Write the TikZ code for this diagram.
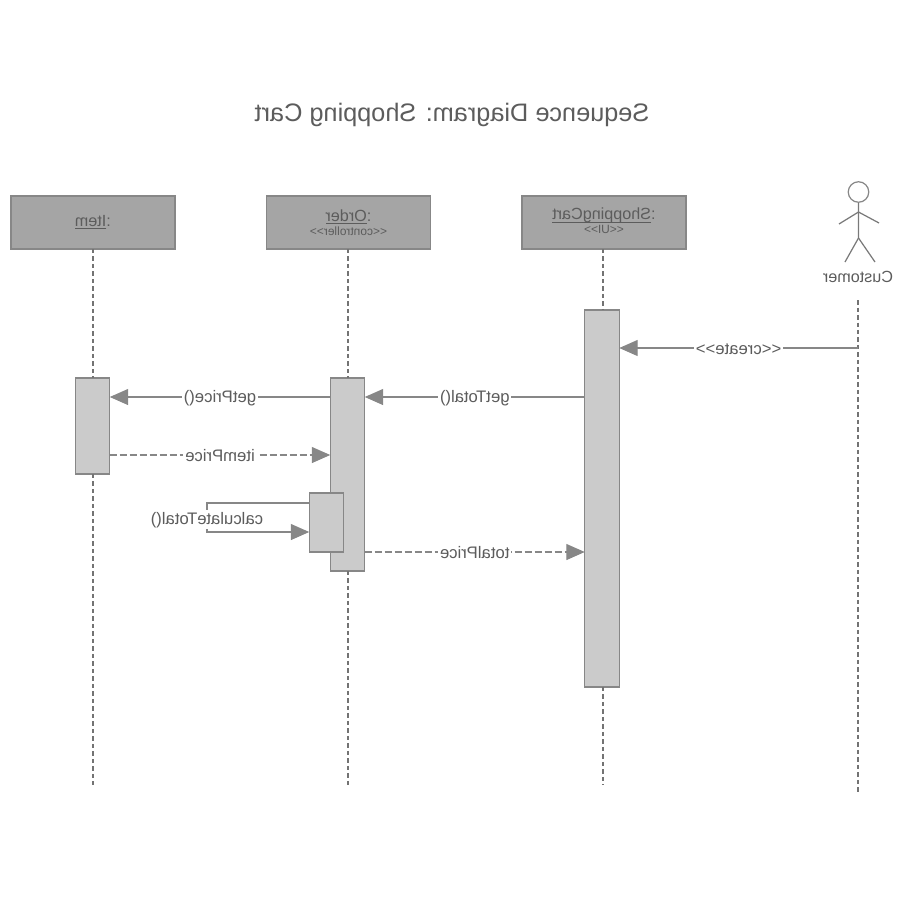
\documentclass[tikz,border=0pt]{standalone}
\usepackage{graphicx}
\usepackage{xcolor}
\usepackage{fontspec}
\setmainfont{Liberation Sans}
\usetikzlibrary{arrows.meta, positioning}

\definecolor{headfill}{HTML}{A5A5A5}
\definecolor{barfill}{HTML}{CBCBCB}
\definecolor{edgegray}{HTML}{878787}
\definecolor{textgray}{HTML}{5C5C5C}

% the whole reference prints mirrored
\newcommand{\mir}[1]{\reflectbox{#1}}

\tikzset{
    headbox/.style={draw=edgegray, line width=0.7pt, fill=headfill, inner sep=0pt, outer sep=0pt, minimum width=3.28cm, minimum height=1.06cm, align=center, text=textgray, font=\fontsize{9.2}{9.7}\selectfont},
    actbar/.style={draw=edgegray, line width=0.8pt, fill=barfill, inner sep=0pt, outer sep=0pt, minimum width=0.69cm},
    lifeline/.style={dashed, dash pattern=on 0.09cm off 0.06cm, edgegray!85!black, line width=0.9pt},
    callmsg/.style={edgegray, line width=0.8pt, -{Triangle[length=0.37cm, width=0.32cm]}},
    backmsg/.style={callmsg, dash pattern=on 0.14cm off 0.06cm},
    msglabel/.style={fill=white, inner xsep=1pt, inner ysep=1pt, yshift=-0.5pt, text=textgray, font=\fontsize{9.5}{10}\selectfont},
    figure/.style={edgegray!90!black, line width=0.7pt}
}

\begin{document}
\begin{tikzpicture}[x=0.02cm, y=-0.02cm]
\useasboundingbox (0,0) rectangle (900,900);

    % Title
    \node[text=textgray, font=\fontsize{14.4}{17}\selectfont] (title) at (452,115) {\mir{Sequence Diagram: Shopping Cart}};

    % Heads
    \node[headbox] (item) at (93,222.5) {\mir{:\underline{Item}}};
    \node[headbox] (order) at (348.5,222.5) {\mir{:\underline{Order}}\\[-1.5pt]{\fontsize{6.8}{7}\selectfont\mir{<{}<controller>{}>}}};
    \node[headbox] (cart) at (604,222.5) {\mir{:\underline{\smash{ShoppingCart}}}\\[-1.5pt]{\fontsize{6.8}{7}\selectfont\mir{<{}<UI>{}>}}};

    % Customer
    \node[circle, draw=edgegray, line width=0.7pt, inner sep=0pt, minimum size=0.41cm] (head) at (858.5,192) {};
    \coordinate (neck) at (858.5,212);
    \coordinate (hip) at (858.5,238);
    \coordinate (lefthand) at (839,224);
    \coordinate (righthand) at (879,223);
    \coordinate (leftfoot) at (845,262);
    \coordinate (rightfoot) at (875,262);
    \draw[figure] (head) -- (hip) -- (leftfoot);
    \draw[figure] (hip) -- (rightfoot);
    \draw[figure] (lefthand) -- (neck) -- (righthand);
    \node[text=textgray, font=\fontsize{9.2}{10}\selectfont] (customer) at (858,277) {\mir{Customer}};

    % Activation bars
    \node[actbar, minimum height=7.54cm] (cartbar) at (602,498.5) {};
    \node[actbar, minimum height=3.86cm] (orderbar) at (347.5,474.5) {};
    \node[actbar, minimum height=1.92cm] (itembar) at (92.5,426) {};
    \node[actbar, minimum height=1.18cm] (calcbar) at (326.5,522.5) {};

    % Lifelines
    \coordinate (itemend) at (93,785);
    \coordinate (orderend) at (348,785);
    \coordinate (cartend) at (603,785);
    \coordinate (custstart) at (858,300);
    \coordinate (custend) at (858,792);
    \draw[lifeline] (item.south) -- (item.south |- itembar.north);
    \draw[lifeline] (item.south |- itembar.south) -- (itemend);
    \draw[lifeline] (order.south -| orderend) -- (orderend |- orderbar.north);
    \draw[lifeline] (orderend |- orderbar.south) -- (orderend);
    \draw[lifeline] (cart.south -| cartend) -- (cartend |- cartbar.north);
    \draw[lifeline] (cartend |- cartbar.south) -- (cartend);
    \draw[lifeline] (custstart) -- (custend);

    % Messages
    \coordinate (createy) at (858,348);
    \coordinate (calltop) at (207,503);
    \coordinate (callbot) at (207,532);
    \coordinate (gety) at (0,397);
    \coordinate (pricey) at (0,455);
    \coordinate (totaly) at (0,552);
    \draw[callmsg] (createy) -- (cartbar.east |- createy) node[midway, msglabel] {\mir{<{}<create>{}>}};
    \draw[callmsg] (cartbar.west |- gety) -- (orderbar.east |- gety) node[midway, msglabel] {\mir{getTotal()}};
    \draw[callmsg] (orderbar.west |- gety) -- (itembar.east |- gety) node[midway, msglabel] {\mir{getPrice()}};
    \draw[backmsg] (itembar.east |- pricey) -- (orderbar.west |- pricey) node[midway, msglabel] {\mir{itemPrice}};
    \draw[backmsg] (orderbar.east |- totaly) -- (cartbar.west |- totaly) node[midway, msglabel] {\mir{totalPrice}};

    % Self call
    \draw[callmsg] (calcbar.west |- calltop) -- (calltop) -- (callbot) -- (calcbar.west |- callbot);
    \node[msglabel] (calclabel) at (207,519) {\mir{calculateTotal()}};
\end{tikzpicture}
\end{document}
